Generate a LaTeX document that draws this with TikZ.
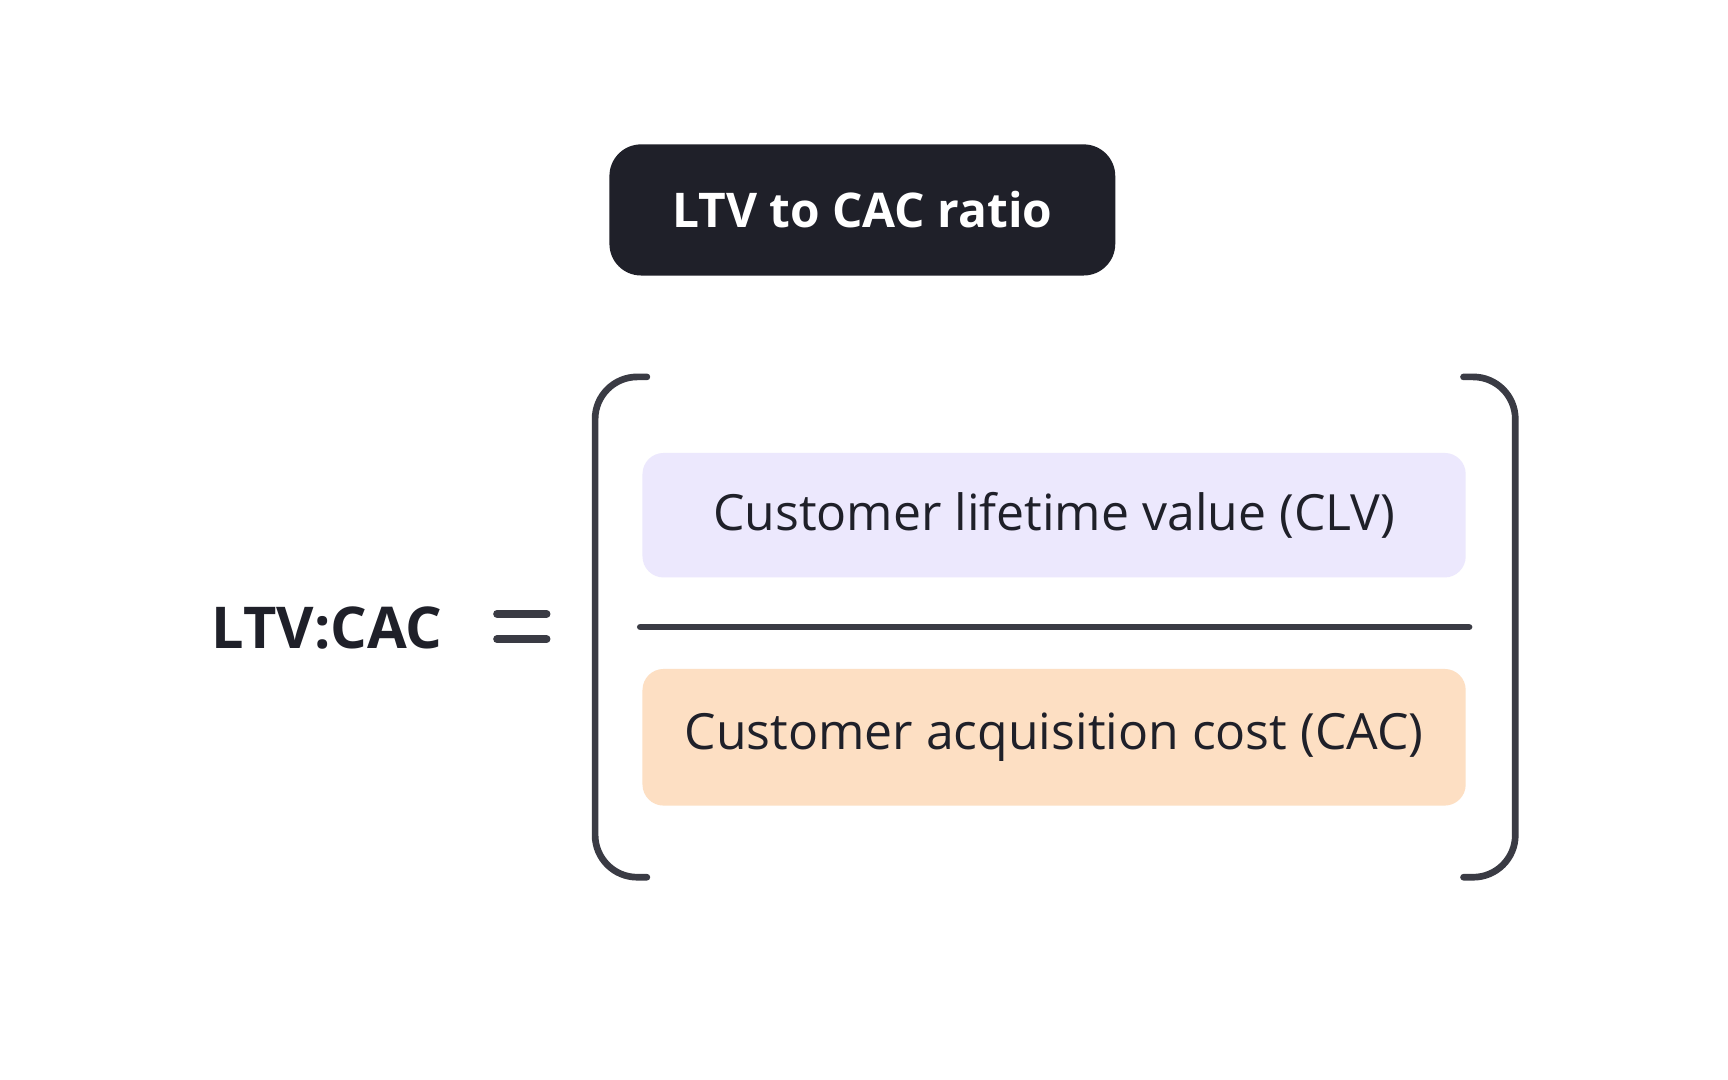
\documentclass[tikz,border=0pt]{standalone}
\usepackage{fontspec}
\setmainfont{Open Sans}
\definecolor{ink}{HTML}{1F2029}
\definecolor{brk}{HTML}{3A3B44}
\definecolor{lilac}{HTML}{ECE8FD}
\definecolor{peach}{HTML}{FDDFC3}
\tikzset{
  term/.style={rounded corners=6pt,minimum width=747*0.01102cm,inner sep=0pt,font=\fontsize{14.2}{16}\selectfont,text=ink},
  bar/.style={brk,line width=1.9pt,line cap=round}
}
\begin{document}
\begin{tikzpicture}[x=0.01102cm,y=-0.01102cm]
\useasboundingbox[fill=white](0,0)rectangle(1568,980);
\node[fill=ink,rounded corners=9pt,minimum width=459*0.01102cm,minimum height=119*0.01102cm,text=white,font=\bfseries\fontsize{13.6}{16}\selectfont](title)at(782.5,190.5){LTV to CAC ratio};
\node[font=\bfseries\fontsize{16.4}{19}\selectfont,text=ink](lhs)at(297,570){LTV:CAC};
% equals sign
\draw[bar,line width=2.2pt](451,557)--(496,557);
\draw[bar,line width=2.2pt](451,580)--(496,580);
% brackets
\draw[bar,rounded corners=12pt](587,342)--(540,342)--(540,796)--(587,796);
\draw[bar,rounded corners=12pt](1328,342)--(1375,342)--(1375,796)--(1328,796);
% fraction
\node[term,fill=lilac,minimum height=113*0.01102cm](clv)at(956.5,467.5){Customer lifetime value (CLV)};
\node[term,fill=peach,minimum height=124*0.01102cm](cac)at(956.5,669){Customer acquisition cost (CAC)};
\draw[bar](581,569)--(1333,569);
\end{tikzpicture}
\end{document}
